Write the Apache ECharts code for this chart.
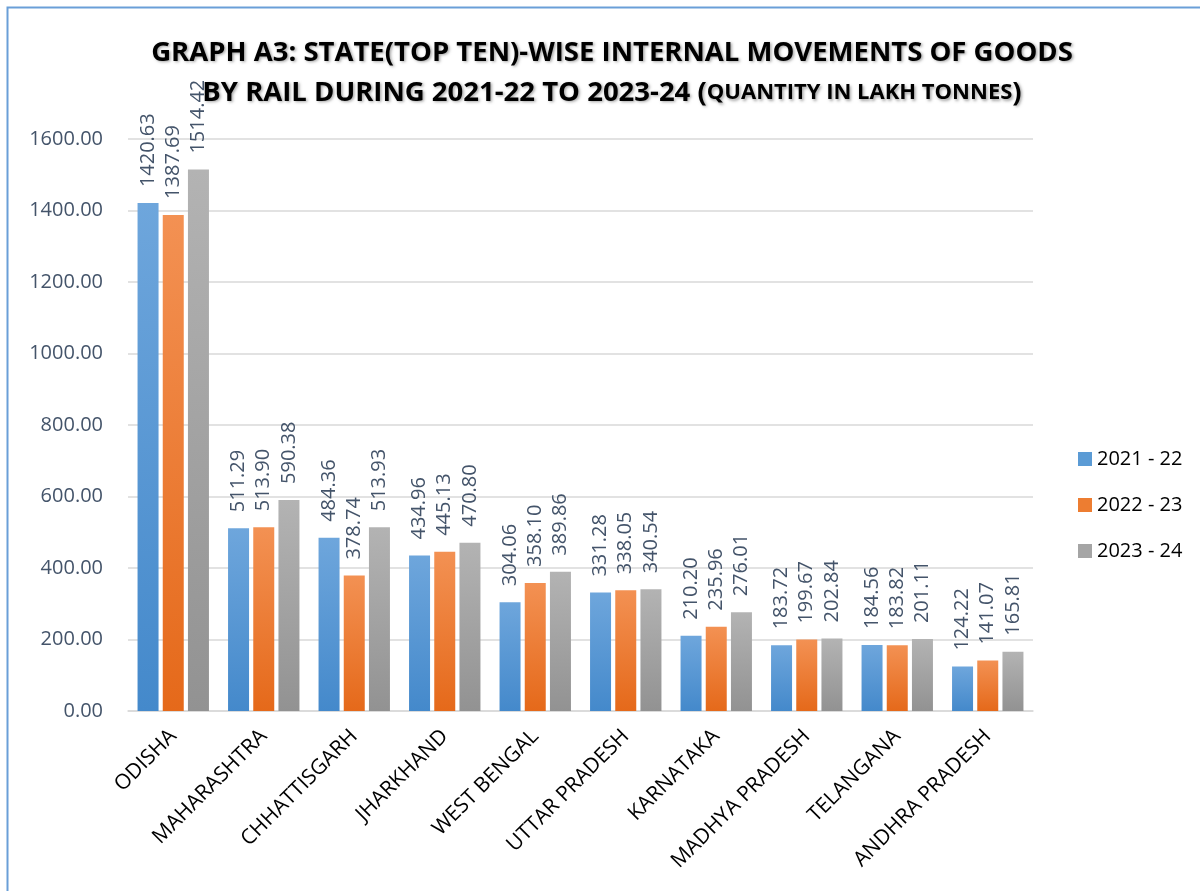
<!DOCTYPE html>
<html><head><meta charset="utf-8">
<script src="https://cdn.jsdelivr.net/npm/echarts@6/dist/echarts.min.js"></script>
<style>html,body{margin:0;padding:0;background:#fff}#c{width:1200px;height:891px}</style>
</head><body><div id="c"></div>
<script>
const states = ['ODISHA','MAHARASHTRA','CHHATTISGARH','JHARKHAND','WEST BENGAL','UTTAR PRADESH','KARNATAKA','MADHYA PRADESH','TELANGANA','ANDHRA PRADESH'];
const seriesNames = ['2021 - 22','2022 - 23','2023 - 24'];
const y2021 = [1420.63, 511.29, 484.36, 434.96, 304.06, 331.28, 210.20, 183.72, 184.56, 124.22];
const y2022 = [1387.69, 513.90, 378.74, 445.13, 358.10, 338.05, 235.96, 199.67, 183.82, 141.07];
const y2023 = [1514.42, 590.38, 513.93, 470.80, 389.86, 340.54, 276.01, 202.84, 201.11, 165.81];

const chart = echarts.init(document.getElementById('c'));
const FONT = '"Open Sans", "Noto Sans", sans-serif';
function grad(top, bottom){
  return new echarts.graphic.LinearGradient(0,0,0,1,[{offset:0,color:top},{offset:1,color:bottom}]);
}
const colors = [grad('#6EA6DC','#4489CB'), grad('#F39153','#E5691A'), grad('#B3B3B3','#929292')];
const legendColors = ['#5B9BD5','#ED7D31','#A5A5A5'];
const datasets = [y2021, y2022, y2023];
const shadow = {textShadowColor:'rgba(0,0,0,0.35)', textShadowBlur:3, textShadowOffsetX:1.5, textShadowOffsetY:1.5};

chart.setOption({
  backgroundColor:'#fff',
  animation:false,
  title:{
    left:607, textAlign:'center', top:28,
    text:'{a|GRAPH A3: STATE(TOP TEN)-WISE INTERNAL MOVEMENTS OF GOODS}\n{a|BY RAIL DURING 2021-22 TO 2023-24 (}{b|QUANTITY IN LAKH TONNES}{a|)}',
    textStyle:{
      fontFamily:FONT, fontWeight:'bold', color:'#000', lineHeight:40,
      rich:{
        a:Object.assign({fontFamily:FONT,fontWeight:'bold',fontSize:27.5,color:'#000',lineHeight:40},shadow),
        b:Object.assign({fontFamily:FONT,fontWeight:'bold',fontSize:22,color:'#000',lineHeight:40},shadow)
      }
    }
  },
  legend:{
    orient:'vertical', left:1073, top:444, itemGap:26, itemWidth:14, itemHeight:14,
    icon:'rect',
    textStyle:{fontFamily:FONT, fontSize:20, color:'#000'},
    data:seriesNames.map((n,i)=>({name:n, itemStyle:{color:legendColors[i]}}))
  },
  grid:{left:128, right:167, top:139, bottom:180, containLabel:false},
  xAxis:{
    type:'category', data:states,
    axisLine:{lineStyle:{color:'#D9D9D9', width:1.5}},
    axisTick:{show:false},
    axisLabel:{rotate:45, interval:0, fontFamily:FONT, fontSize:21, color:'#000', margin:22}
  },
  yAxis:{
    type:'value', min:0, max:1600, interval:200,
    axisLine:{show:false}, axisTick:{show:false},
    splitLine:{lineStyle:{color:'#D9D9D9', width:1.5}},
    axisLabel:{formatter:v=>v.toFixed(2), fontFamily:FONT, fontSize:20, color:'#44546A', margin:25}
  },
  series: datasets.map((d,i)=>({
    name:seriesNames[i], type:'bar', data:d,
    barWidth:21, barGap:'20%', barCategoryGap:'22%',
    itemStyle:{color:colors[i]},
    label:{show:true, position:'top', rotate:90, align:'left', verticalAlign:'middle', distance:16,
      formatter:p=>p.value.toFixed(2), fontFamily:FONT, fontSize:20, color:'#44546A'}
  })),
  graphic:[{type:'rect', shape:{x:7.5,y:7.5,width:1300,height:1000}, style:{fill:null, stroke:'#6A9FD8', lineWidth:2}, z:100}]
});
</script></body></html>
